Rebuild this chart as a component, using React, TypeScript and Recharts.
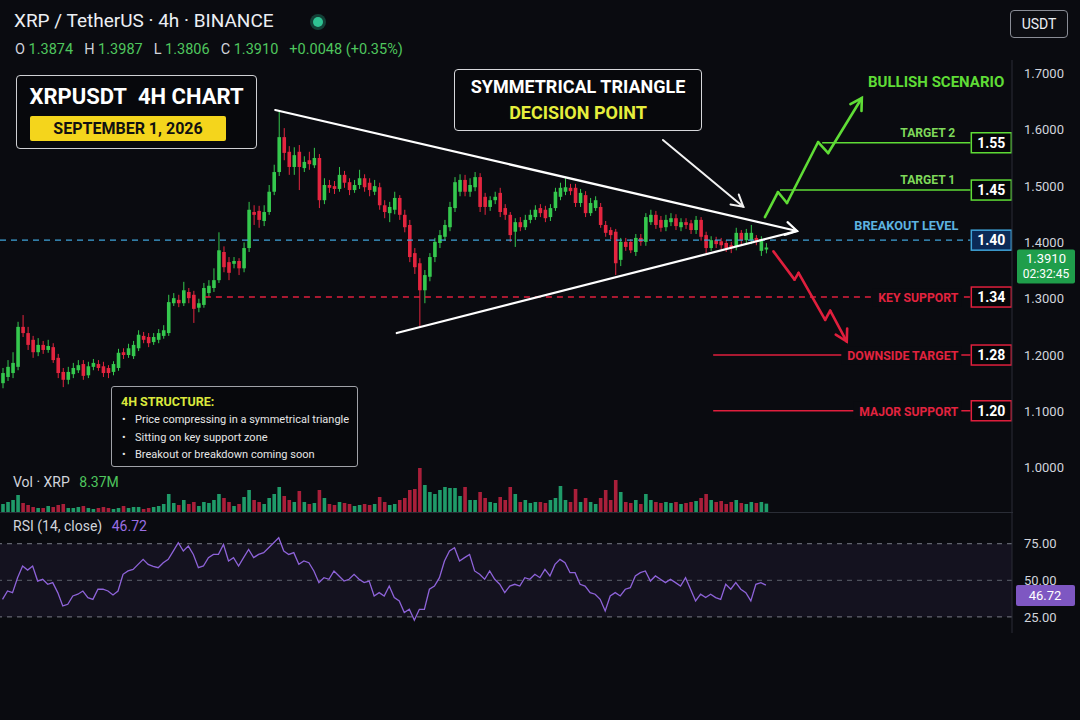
import React from "react";
import { ComposedChart, Bar, Line, XAxis, YAxis, ReferenceLine, ReferenceArea } from "recharts";

// ---------- DATA ----------
const opens = [
  1.150,1.161,1.168,1.179,1.250,1.239,1.227,1.205,1.218,1.209,
  1.214,1.195,1.170,1.156,1.166,1.173,1.184,1.164,1.179,1.184,
  1.180,1.177,1.170,1.177,1.205,1.200,1.198,1.212,1.234,1.232,
  1.223,1.227,1.234,1.239,1.292,1.298,1.292,1.312,1.307,1.284,
  1.289,1.310,1.319,1.333,1.383,1.365,1.362,1.367,1.354,1.390,
  1.454,1.456,1.438,1.454,1.490,1.525,1.587,1.561,1.534,1.561,
  1.532,1.546,1.537,1.550,1.475,1.502,1.500,1.495,1.520,1.507,
  1.493,1.502,1.514,1.506,1.490,1.498,1.466,1.452,1.458,1.479,
  1.449,1.431,1.381,1.363,1.315,1.339,1.374,1.399,1.410,1.427,
  1.461,1.490,1.511,1.490,1.498,1.516,1.481,1.463,1.475,1.488,
  1.461,1.449,1.419,1.436,1.427,1.440,1.445,1.461,1.458,1.445,
  1.461,1.481,1.490,1.497,1.497,1.470,1.484,1.452,1.461,1.463,
  1.431,1.422,1.419,1.369,1.401,1.401,1.383,1.408,1.401,1.436,
  1.449,1.440,1.427,1.436,1.443,1.427,1.436,1.434,1.422,1.440,
  1.413,1.390,1.404,1.402,1.399,1.395,1.392,1.417,1.404,1.404,
  1.408,1.385,1.3874,
];
const highs = [
  1.177,1.191,1.205,1.259,1.271,1.250,1.234,1.230,1.225,1.227,
  1.221,1.202,1.177,1.179,1.186,1.191,1.191,1.188,1.193,1.191,
  1.188,1.182,1.189,1.211,1.212,1.220,1.225,1.244,1.241,1.239,
  1.239,1.246,1.253,1.307,1.310,1.307,1.330,1.319,1.314,1.300,
  1.328,1.333,1.354,1.418,1.393,1.374,1.374,1.372,1.400,1.472,
  1.466,1.465,1.466,1.502,1.538,1.635,1.603,1.571,1.569,1.573,
  1.553,1.561,1.568,1.557,1.514,1.511,1.509,1.534,1.527,1.514,
  1.511,1.529,1.521,1.514,1.511,1.506,1.475,1.472,1.490,1.484,
  1.458,1.440,1.390,1.372,1.351,1.381,1.408,1.422,1.440,1.472,
  1.516,1.521,1.520,1.514,1.525,1.523,1.488,1.482,1.490,1.497,
  1.468,1.454,1.443,1.445,1.449,1.458,1.466,1.468,1.465,1.468,
  1.497,1.506,1.514,1.504,1.504,1.495,1.491,1.479,1.482,1.470,
  1.438,1.427,1.424,1.408,1.408,1.406,1.415,1.415,1.452,1.458,
  1.456,1.447,1.449,1.452,1.450,1.443,1.443,1.440,1.447,1.445,
  1.419,1.411,1.410,1.408,1.404,1.401,1.426,1.422,1.424,1.431,
  1.413,1.411,1.3987,
];
const lows = [
  1.141,1.154,1.159,1.173,1.232,1.209,1.195,1.198,1.202,1.204,
  1.186,1.159,1.143,1.148,1.159,1.168,1.156,1.159,1.173,1.172,
  1.161,1.159,1.164,1.172,1.193,1.195,1.193,1.207,1.221,1.214,
  1.218,1.221,1.229,1.234,1.287,1.285,1.287,1.292,1.257,1.276,
  1.284,1.303,1.312,1.328,1.347,1.333,1.354,1.342,1.347,1.383,
  1.431,1.426,1.429,1.449,1.484,1.518,1.546,1.520,1.520,1.493,
  1.525,1.529,1.532,1.461,1.468,1.488,1.486,1.490,1.497,1.484,
  1.488,1.495,1.490,1.482,1.484,1.458,1.443,1.436,1.450,1.440,
  1.418,1.365,1.344,1.250,1.292,1.331,1.365,1.390,1.403,1.420,
  1.454,1.482,1.482,1.481,1.491,1.454,1.449,1.456,1.468,1.445,
  1.440,1.401,1.392,1.420,1.422,1.434,1.440,1.445,1.436,1.438,
  1.456,1.475,1.484,1.484,1.463,1.463,1.445,1.447,1.456,1.426,
  1.410,1.406,1.342,1.358,1.385,1.381,1.376,1.394,1.394,1.431,
  1.424,1.419,1.420,1.429,1.422,1.420,1.424,1.415,1.415,1.403,
  1.381,1.385,1.390,1.388,1.383,1.381,1.386,1.397,1.399,1.397,
  1.395,1.376,1.3806,
];
const closes = [
  1.168,1.179,1.186,1.250,1.239,1.218,1.205,1.218,1.209,1.216,
  1.191,1.168,1.156,1.170,1.177,1.182,1.163,1.180,1.186,1.177,
  1.168,1.168,1.184,1.204,1.200,1.212,1.218,1.236,1.227,1.221,
  1.232,1.239,1.244,1.294,1.301,1.292,1.315,1.301,1.282,1.292,
  1.319,1.323,1.333,1.386,1.356,1.346,1.367,1.354,1.390,1.458,
  1.449,1.440,1.454,1.490,1.525,1.587,1.559,1.534,1.555,1.534,
  1.543,1.539,1.550,1.475,1.502,1.497,1.495,1.520,1.506,1.493,
  1.502,1.514,1.498,1.493,1.500,1.466,1.454,1.463,1.479,1.449,
  1.427,1.374,1.356,1.315,1.342,1.374,1.401,1.413,1.431,1.463,
  1.507,1.511,1.490,1.502,1.516,1.463,1.463,1.475,1.481,1.454,
  1.449,1.413,1.436,1.427,1.440,1.449,1.458,1.452,1.443,1.461,
  1.490,1.497,1.498,1.491,1.470,1.488,1.452,1.470,1.475,1.431,
  1.417,1.413,1.363,1.401,1.392,1.386,1.408,1.401,1.445,1.449,
  1.431,1.426,1.440,1.443,1.429,1.436,1.431,1.422,1.440,1.410,
  1.390,1.404,1.397,1.395,1.390,1.390,1.417,1.404,1.417,1.417,
  1.402,1.404,1.391,
];
const volumes = [
  8,10,12,17,9,7,5,4,4,6,
  5,7,8,4,4,5,6,4,3,4,
  5,4,3,4,6,4,5,5,3,4,
  5,6,8,18,9,7,12,8,10,6,
  10,9,12,18,14,10,6,8,15,22,
  12,10,8,14,18,25,16,12,10,21,
  10,8,9,22,14,8,7,10,9,8,
  6,7,8,7,8,15,10,7,8,12,
  14,22,23,44,27,20,18,22,25,24,
  24,16,25,12,12,20,14,10,9,15,
  12,25,18,10,12,9,10,10,9,12,
  14,26,12,10,23,10,14,10,8,14,
  22,12,32,20,10,9,12,8,18,12,
  10,9,10,9,10,8,9,10,11,14,
  18,12,10,11,8,10,12,9,8,10,
  9,10,8.37,
];
const rsi = [
  37.0,42.7,41.6,51.8,59.8,57.0,59.8,49.5,50.7,47.3,
  48.4,41.6,32.5,33.6,39.3,40.5,42.7,38.2,37.0,43.9,
  43.9,42.7,40.0,42.7,54.1,56.4,57.5,60.9,64.3,60.9,
  59.5,58.6,62.0,64.3,70.0,75.7,70.0,73.4,67.7,58.6,
  59.8,65.5,67.7,67.7,74.5,63.2,65.5,59.8,65.5,71.1,
  65.5,67.7,68.9,72.3,75.7,79.1,70.0,67.7,68.9,60.9,
  63.2,62.0,56.4,48.4,51.8,50.7,56.4,53.0,49.5,50.7,
  54.1,50.7,48.4,49.5,39.3,41.6,39.3,46.1,38.2,35.9,
  28.0,30.2,22.7,30.2,30.2,43.9,46.1,51.8,63.2,70.0,
  72.3,63.2,65.5,67.7,56.4,54.1,50.7,56.4,50.7,47.3,
  41.6,46.1,47.3,46.1,51.8,50.7,54.1,51.8,57.5,53.0,
  60.9,64.3,62.0,55.2,55.2,47.3,46.1,41.6,40.5,37.0,
  29.1,39.3,41.6,39.3,43.9,45.0,53.0,55.2,56.4,49.5,
  53.0,50.7,48.4,50.7,48.4,46.1,51.8,43.9,35.9,40.5,
  38.2,40.5,38.2,37.0,47.3,43.9,48.4,43.9,41.6,35.9,
  47.3,48.4,46.72,
];

const priceTicks = [1.0, 1.1, 1.2, 1.3, 1.4, 1.5, 1.6, 1.7];
const rsiTicks = [25, 50, 75];
const lastPrice = 1.391;
const lastRsi = 46.72;

// annotation levels (names, tags, axis values)
const levelNames = ["TARGET 2", "TARGET 1", "BREAKOUT LEVEL", "KEY SUPPORT", "DOWNSIDE TARGET", "MAJOR SUPPORT"];
const levelTags = ["1.55", "1.45", "1.40", "1.34", "1.28", "1.20"];
const levelPrices = [1.577, 1.493, 1.404, 1.303, 1.2, 1.101];
const levelFrom = [163.2, 154.8, -0.5, 40.3, 141.5, 141.5];
const levelTo = 192.7;

// trendlines / scenario paths (candle index, price)
const triUpperX = [54.3, 158.2];
const triUpperY = [1.6352, 1.4202];
const triLowerX = [78.5, 158.2];
const triLowerY = [1.2391, 1.4202];
const pointerX = [131.5, 147.5];
const pointerY = [1.5819, 1.4634];
const bullX = [151.8, 154.4, 156.2, 162.4, 164.4, 171.1];
const bullY = [1.4451, 1.4895, 1.47, 1.5783, 1.5588, 1.6565];
const bearX = [153.5, 157.7, 158.5, 163.8, 164.8, 168.1];
const bearY = [1.3841, 1.3339, 1.3458, 1.2624, 1.2789, 1.2239];

// ---------- STYLE ----------
const BG = "#0a0b10";
const UP = "#35c84e";
const DOWN = "#e3253f";
const VUP = "#1f9b69";
const VDOWN = "#a91f3a";
const FONT = 'Roboto, "Noto Sans", "DejaVu Sans", sans-serif';
const AXIS_TXT = "#d1d4dc";
const X_DOMAIN: [number, number] = [-0.5, 201];
const BULL = "#5fdc36";
const BEAR = "#e01f3d";
const BLUE = "#3fa3d8";

const candleData = opens.map((o, i) => ({
  i,
  o,
  h: highs[i],
  l: lows[i],
  c: closes[i],
  range: [lows[i], highs[i]],
}));
const volData = volumes.map((v, i) => ({ i, v, up: closes[i] >= opens[i] }));
const rsiData = rsi.map((r, i) => ({ i, r }));

const Candle = (props: any) => {
  const { x, y, width, height, payload } = props;
  if (!payload || x == null) return null;
  const { o, h, l, c } = payload;
  const top = Math.min(y, y + height);
  const hh = Math.abs(height);
  const ratio = h === l ? 0 : hh / (h - l);
  const yO = top + (h - o) * ratio;
  const yC = top + (h - c) * ratio;
  const color = c >= o ? UP : DOWN;
  const cx = x + width / 2;
  const bTop = Math.min(yO, yC);
  const bH = Math.max(1.2, Math.abs(yO - yC));
  return (
    <g>
      <line x1={cx} x2={cx} y1={top} y2={top + hh} stroke={color} strokeWidth={1} />
      <rect x={cx - 1.8} y={bTop} width={3.6} height={bH} fill={color} />
    </g>
  );
};

const VolBar = (props: any) => {
  const { x, y, width, height, payload } = props;
  if (!payload || x == null) return null;
  const cx = x + width / 2;
  return <rect x={cx - 1.8} y={y} width={3.6} height={Math.max(0, height)} fill={payload.up ? VUP : VDOWN} />;
};

const arrowShape = (color: string, sw: number, head: boolean, headLen = 13) => (p: any) => {
  const x1 = Number(p.x1), y1 = Number(p.y1), x2 = Number(p.x2), y2 = Number(p.y2);
  const ang = Math.atan2(y2 - y1, x2 - x1);
  const a = Math.PI / 6;
  const hx1 = x2 - headLen * Math.cos(ang - a);
  const hy1 = y2 - headLen * Math.sin(ang - a);
  const hx2 = x2 - headLen * Math.cos(ang + a);
  const hy2 = y2 - headLen * Math.sin(ang + a);
  return (
    <g>
      <line x1={x1} y1={y1} x2={x2} y2={y2} stroke={color} strokeWidth={sw} strokeLinecap="round" />
      {head && (
        <polyline
          points={`${hx1},${hy1} ${x2},${y2} ${hx2},${hy2}`}
          fill="none"
          stroke={color}
          strokeWidth={sw}
          strokeLinecap="round"
          strokeLinejoin="miter"
        />
      )}
    </g>
  );
};

const levelColor = [BULL, BULL, BLUE, BEAR, BEAR, BEAR];
const levelTextColor = ["#7fd95a", "#7fd95a", "#5db3e0", "#e2233f", "#e2233f", "#e2233f"];
const levelDash = [undefined, undefined, "6 5", "6 5", undefined, undefined];
const levelMode = ["above", "above", "above2", "inline", "inline", "inline"];
const levelTextW = [55, 55, 104, 80, 111, 99];

const levelShape = (k: number) => (p: any) => {
  const x1 = Number(p.x1), y = Number(p.y1), x2 = Number(p.x2);
  const xe = Math.max(x1, x2);
  const col = levelColor[k];
  const mode = levelMode[k];
  const tw = levelTextW[k];
  const isBlue = k === 2;
  return (
    <g>
      <line x1={Math.min(x1, x2)} x2={xe} y1={y} y2={y} stroke={col} strokeWidth={k === 2 ? 1.2 : 1.6} strokeDasharray={levelDash[k]} />
      {mode === "inline" && <rect x={xe - 12 - tw - 6} y={y - 9} width={tw + 9} height={18} fill={BG} />}
      <text
        x={xe - (mode === "above" ? 15 : 12)}
        y={mode === "inline" ? y + 5 : mode === "above" ? y - 6 : y - 10}
        textAnchor="end"
        fill={levelTextColor[k]}
        fontFamily={FONT}
        fontWeight={700}
        fontSize={13}
        textLength={tw}
        lengthAdjust="spacingAndGlyphs"
      >
        {levelNames[k]}
      </text>
      <rect x={xe + 1} y={y - 10} width={40} height={20} fill={isBlue ? "#0b2a57" : "#050608"} stroke={col} strokeWidth={1.5} />
      <text x={xe + 21} y={y + 5} textAnchor="middle" fill="#ffffff" fontFamily={FONT} fontWeight={700} fontSize={14}>
        {levelTags[k]}
      </text>
    </g>
  );
};

const priceBadge = (p: any) => {
  const y = Number(p.y1), x = Math.max(Number(p.x1), Number(p.x2));
  return (
    <g>
      <rect x={x + 5} y={y + 2} width={58} height={34} rx={2} fill="#1f9e4b" />
      <text x={x + 34} y={y + 16} textAnchor="middle" fill="#ffffff" fontFamily={FONT} fontSize={13}>
        {lastPrice.toFixed(4)}
      </text>
      <text x={x + 34} y={y + 31} textAnchor="middle" fill="#ffffff" fontFamily={FONT} fontSize={12}>
        02:32:45
      </text>
    </g>
  );
};

const rsiBadge = (p: any) => {
  const y = Number(p.y1), x = Math.max(Number(p.x1), Number(p.x2));
  return (
    <g>
      <rect x={x + 4} y={y} width={59} height={21} rx={2} fill="#7e57c2" />
      <text x={x + 33} y={y + 15} textAnchor="middle" fill="#ffffff" fontFamily={FONT} fontSize={13}>
        {lastRsi.toFixed(2)}
      </text>
    </g>
  );
};

const segs = (xs: number[], ys: number[], color: string, sw: number, keyp: string) =>
  xs.slice(1).map((_, j) => (
    <ReferenceLine
      key={keyp + j}
      segment={[
        { x: xs[j], y: ys[j] },
        { x: xs[j + 1], y: ys[j + 1] },
      ]}
      shape={arrowShape(color, sw, j === xs.length - 2)}
      ifOverflow="visible"
    />
  ));

export default function App() {
  return (
    <div style={{ position: "relative", width: 1080, height: 720, background: BG, overflow: "hidden", fontFamily: FONT }}>
      <style>{`body{margin:0;background:${BG};}`}</style>

      {/* price pane */}
      <div style={{ position: "absolute", left: 0, top: 0 }}>
        <ComposedChart width={1080} height={720} data={candleData} margin={{ top: 60, right: 0, bottom: 208, left: 0 }}>
          <XAxis type="number" dataKey="i" domain={X_DOMAIN} allowDataOverflow hide />
          <YAxis
            orientation="right"
            width={68}
            domain={[0.9212, 1.724]}
            allowDataOverflow
            ticks={priceTicks}
            tickFormatter={(v: number) => v.toFixed(4)}
            tick={{ fill: AXIS_TXT, fontSize: 13, fontFamily: FONT }}
            tickSize={0}
            tickMargin={12}
            axisLine={{ stroke: "#2a2d36" }}
            tickLine={false}
          />
          {levelPrices.map((lp, k) => (
            <ReferenceLine
              key={"lvl" + k}
              segment={[
                { x: levelFrom[k], y: lp },
                { x: levelTo, y: lp },
              ]}
              shape={levelShape(k)}
              ifOverflow="visible"
            />
          ))}
          <Bar dataKey="range" shape={Candle} isAnimationActive={false} barSize={4} />
          {segs(triUpperX, triUpperY, "#ffffff", 2.2, "tu")}
          {triLowerX.slice(1).map((_, j) => (
            <ReferenceLine
              key={"tl" + j}
              segment={[
                { x: triLowerX[j], y: triLowerY[j] },
                { x: triLowerX[j + 1], y: triLowerY[j + 1] },
              ]}
              shape={arrowShape("#ffffff", 2.2, false)}
              ifOverflow="visible"
            />
          ))}
          {triUpperX.length > 0 && null}
          {segs(pointerX, pointerY, "#f2f2f2", 2, "pt")}
          {segs(bullX, bullY, BULL, 2.6, "bu")}
          {segs(bearX, bearY, BEAR, 2.6, "be")}
          <ReferenceLine y={lastPrice} shape={priceBadge} ifOverflow="visible" />
        </ComposedChart>
      </div>

      {/* volume overlay */}
      <div style={{ position: "absolute", left: 0, top: 440 }}>
        <ComposedChart width={1080} height={72} data={volData} margin={{ top: 0, right: 68, bottom: 0, left: 0 }}>
          <XAxis type="number" dataKey="i" domain={X_DOMAIN} allowDataOverflow hide />
          <YAxis domain={[0, 72]} allowDataOverflow hide />
          <Bar dataKey="v" shape={VolBar} isAnimationActive={false} barSize={4} />
        </ComposedChart>
      </div>

      {/* pane separator */}
      <div style={{ position: "absolute", left: 0, top: 512, width: 1013, height: 1, background: "#2a2d36" }} />

      {/* RSI pane */}
      <div style={{ position: "absolute", left: 0, top: 513 }}>
        <ComposedChart width={1080} height={120} data={rsiData} margin={{ top: 0, right: 0, bottom: 0, left: 0 }}>
          <XAxis type="number" dataKey="i" domain={X_DOMAIN} allowDataOverflow hide />
          <YAxis
            orientation="right"
            width={68}
            domain={[14, 96]}
            allowDataOverflow
            ticks={rsiTicks}
            tickFormatter={(v: number) => v.toFixed(2)}
            tick={{ fill: AXIS_TXT, fontSize: 13, fontFamily: FONT }}
            tickSize={0}
            tickMargin={12}
            axisLine={{ stroke: "#2a2d36" }}
            tickLine={false}
          />
          <ReferenceArea y1={25} y2={75} fill="#7e57c2" fillOpacity={0.09} stroke="none" />
          <ReferenceLine y={75} stroke="#787b86" strokeDasharray="5 5" />
          <ReferenceLine y={50} stroke="#5d606b" strokeDasharray="5 5" />
          <ReferenceLine y={25} stroke="#787b86" strokeDasharray="5 5" />
          <Line dataKey="r" stroke="#8e63d9" strokeWidth={1.3} dot={false} isAnimationActive={false} />
          <ReferenceLine y={lastRsi} shape={rsiBadge} ifOverflow="visible" />
        </ComposedChart>
      </div>

      {/* header */}
      <div style={{ position: "absolute", left: 14, top: 9, color: "#eceff4", fontSize: 19, whiteSpace: "nowrap" }}>
        XRP / TetherUS · 4h · BINANCE
      </div>
      <div style={{ position: "absolute", left: 310, top: 14, width: 16, height: 16, borderRadius: 8, background: "rgba(38,166,130,0.35)" }} />
      <div style={{ position: "absolute", left: 313, top: 17, width: 10, height: 10, borderRadius: 5, background: "#2fc393" }} />
      <div style={{ position: "absolute", left: 15, top: 41, fontSize: 14.5, whiteSpace: "nowrap", color: "#d1d4dc" }}>
        <span>O </span><span style={{ color: "#4fc65e" }}>1.3874</span>
        <span style={{ marginLeft: 11 }}>H </span><span style={{ color: "#4fc65e" }}>1.3987</span>
        <span style={{ marginLeft: 11 }}>L </span><span style={{ color: "#4fc65e" }}>1.3806</span>
        <span style={{ marginLeft: 11 }}>C </span><span style={{ color: "#4fc65e" }}>1.3910</span>
        <span style={{ marginLeft: 11, color: "#4fc65e" }}>+0.0048 (+0.35%)</span>
      </div>
      <div
        style={{
          position: "absolute", left: 1010, top: 10, width: 56, height: 26, border: "1px solid #8a8d96",
          borderRadius: 4, color: "#eceff4", fontSize: 14, display: "flex", alignItems: "center", justifyContent: "center", background: "#0c0d12",
        }}
      >
        USDT
      </div>

      {/* title box */}
      <div
        style={{
          position: "absolute", left: 16, top: 75, width: 239, height: 72, border: "1.5px solid #cfd0d4",
          borderRadius: 4, background: "#07080c",
        }}
      >
        <div style={{ position: "absolute", left: 0, top: 8, width: 239, textAlign: "center", color: "#ffffff", fontWeight: 700, fontSize: 22 }}>
          XRPUSDT&nbsp;&nbsp;4H CHART
        </div>
        <div
          style={{
            position: "absolute", left: 13, top: 40, width: 196, height: 25, background: "#f4d51c", borderRadius: 2,
            color: "#111", fontWeight: 700, fontSize: 16, display: "flex", alignItems: "center", justifyContent: "center",
          }}
        >
          SEPTEMBER 1, 2026
        </div>
      </div>

      {/* triangle box */}
      <div
        style={{
          position: "absolute", left: 454, top: 69, width: 246, height: 60, border: "1.5px solid #d6d7db",
          borderRadius: 4, background: "#07080c", textAlign: "center", fontWeight: 700, fontSize: 18,
        }}
      >
        <div style={{ position: "absolute", left: 0, top: 6, width: 246, color: "#ffffff" }}>SYMMETRICAL TRIANGLE</div>
        <div style={{ position: "absolute", left: 0, top: 32, width: 246, color: "#e6ee3c" }}>DECISION POINT</div>
      </div>

      {/* scenario title */}
      <div style={{ position: "absolute", left: 868, top: 73, color: BULL, fontWeight: 700, fontSize: 15, whiteSpace: "nowrap" }}>
        BULLISH SCENARIO
      </div>

      {/* structure box */}
      <div
        style={{
          position: "absolute", left: 111, top: 386, width: 245, height: 79, border: "1px solid #a0a2a8",
          borderRadius: 3, background: "#07080c",
        }}
      >
        <div style={{ position: "absolute", left: 9, top: 7, color: "#dbe83c", fontWeight: 700, fontSize: 12.5 }}>4H STRUCTURE:</div>
        {["Price compressing in a symmetrical triangle", "Sitting on key support zone", "Breakout or breakdown coming soon"].map((t, j) => (
          <div key={j} style={{ position: "absolute", left: 10, top: 26 + j * 17.5, color: "#e6e6e6", fontSize: 11, whiteSpace: "nowrap" }}>
            <span style={{ display: "inline-block", width: 13 }}>•</span>
            {t}
          </div>
        ))}
      </div>

      {/* pane legends */}
      <div style={{ position: "absolute", left: 13, top: 474, fontSize: 14, color: "#d1d4dc", whiteSpace: "nowrap" }}>
        Vol · XRP <span style={{ color: "#4fc65e", marginLeft: 6 }}>8.37M</span>
      </div>
      <div style={{ position: "absolute", left: 13, top: 518, fontSize: 14, color: "#d1d4dc", whiteSpace: "nowrap" }}>
        RSI (14, close) <span style={{ color: "#9b6fe3", marginLeft: 6 }}>46.72</span>
      </div>
    </div>
  );
}
